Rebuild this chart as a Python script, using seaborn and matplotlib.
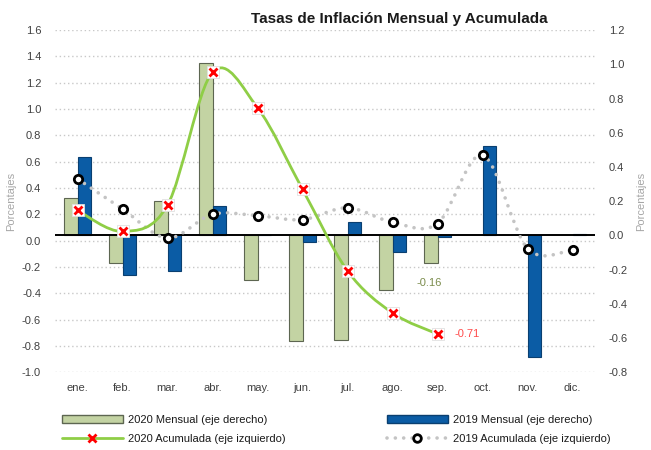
import numpy as np
import pandas as pd
import matplotlib
matplotlib.use('Agg')
import matplotlib.pyplot as plt
import seaborn as sns
from matplotlib.path import Path
from matplotlib.patches import PathPatch, Patch
from matplotlib.lines import Line2D

# data
months = ["ene.", "feb.", "mar.", "abr.", "may.", "jun.", "jul.", "ago.", "sep.", "oct.", "nov.", "dic."]
mensual_2020 = [0.22, -0.16, 0.20, 1.01, -0.26, -0.62, -0.61, -0.32, -0.16]
mensual_2019 = [0.46, -0.23, -0.21, 0.17, 0.00, -0.04, 0.08, -0.10, -0.01, 0.52, -0.71, 0.01]
acum_2020 = [0.23, 0.07, 0.27, 1.28, 1.01, 0.39, -0.23, -0.55, -0.71]
acum_2019 = [0.47, 0.24, 0.02, 0.20, 0.19, 0.16, 0.25, 0.14, 0.13, 0.65, -0.06, -0.07]
left_ticks = [-1.0, -0.8, -0.6, -0.4, -0.2, 0.0, 0.2, 0.4, 0.6, 0.8, 1.0, 1.2, 1.4, 1.6]
right_ticks = [-0.8, -0.6, -0.4, -0.2, 0.0, 0.2, 0.4, 0.6, 0.8, 1.0, 1.2]

lab_m20 = "2020 Mensual (eje derecho)"
lab_m19 = "2019 Mensual (eje derecho)"
lab_a20 = "2020 Acumulada (eje izquierdo)"
lab_a19 = "2019 Acumulada (eje izquierdo)"

GREEN_BAR = "#c3d3a3"
GREEN_EDGE = "#5d6651"
BLUE_BAR = "#0b5ca5"
BLUE_EDGE = "#0a3f70"
LINE_GREEN = "#8fce46"
DOT_GRAY = "#c4c4c4"
TXT = "#404040"

sns.set_style("white")
plt.rcParams['font.family'] = ['Liberation Sans Narrow', 'Liberation Sans', 'DejaVu Sans']
plt.rcParams['font.size'] = 8


def smooth_path(xs, ys):
    # excel-like smoothed line: catmull-rom segments as cubic beziers
    pts = np.column_stack([xs, ys]).astype(float)
    n = len(pts)
    verts = [pts[0]]
    codes = [Path.MOVETO]
    for i in range(n - 1):
        p0 = pts[i - 1] if i > 0 else pts[i]
        p1, p2 = pts[i], pts[i + 1]
        p3 = pts[i + 2] if i + 2 < n else pts[i + 1]
        verts += [p1 + (p2 - p0) / 6, p2 - (p3 - p1) / 6, p2]
        codes += [Path.CURVE4] * 3
    return Path(verts, codes)


df = pd.DataFrame({
    "mes": months[:len(mensual_2020)] + months,
    "serie": [lab_m20] * len(mensual_2020) + [lab_m19] * len(mensual_2019),
    "valor": mensual_2020 + mensual_2019,
})

fig = plt.figure(figsize=(6.51, 4.5), dpi=100)
ax_grid = fig.add_axes([0.0845, 0.173, 0.8295, 0.76])
ax_bars = ax_grid.twinx()
ax_lines = ax_grid.twinx()

# bars on the right scale
sns.barplot(data=df, x="mes", y="valor", hue="serie", order=months,
            hue_order=[lab_m20, lab_m19], palette=[GREEN_BAR, BLUE_BAR],
            width=0.58, saturation=1, legend=False, ax=ax_bars)
for cont, ec in zip(ax_bars.containers, [GREEN_EDGE, BLUE_EDGE]):
    for bar in cont:
        bar.set_edgecolor(ec)
        bar.set_linewidth(0.8)
ax_bars.axhline(0, color="black", lw=1.4, zorder=5)
ax_bars.set_ylim(-0.8, 1.2)
ax_bars.set_yticks(right_ticks, [f"{t:.1f}" for t in right_ticks])
ax_bars.set_ylabel("Porcentajes", color="#a6a6a6", fontsize=8, labelpad=6)
ax_bars.set_xlabel("")

# grid and left scale
ax_grid.set_ylim(-1.0, 1.6)
ax_grid.set_yticks(left_ticks, [f"{t:.1f}" for t in left_ticks])
ax_grid.yaxis.grid(True, color="#c8c8c8", lw=1, linestyle=(0, (1, 2)))
ax_grid.set_ylabel("Porcentajes", color="#a6a6a6", fontsize=8, labelpad=4)
ax_grid.set_xlim(-0.5, 11.5)
ax_grid.set_xticks(range(len(months)), months)

# lines on the left scale
ax_lines.set_ylim(-1.0, 1.6)
ax_lines.set_xlim(-0.5, 11.5)
ax_lines.yaxis.set_visible(False)

x19 = np.arange(len(acum_2019))
x20 = np.arange(len(acum_2020))
ax_lines.add_patch(PathPatch(smooth_path(x19, acum_2019), fill=False, edgecolor=DOT_GRAY,
                             lw=2.6, linestyle=(0, (0.01, 2.3)), capstyle="round", zorder=2))
ax_lines.add_patch(PathPatch(smooth_path(x20, acum_2020), fill=False, edgecolor=LINE_GREEN,
                             lw=2.0, zorder=3))
ax_lines.plot(x19, acum_2019, ls="none", marker="o", ms=6, mfc="white", mec="black",
              mew=2, zorder=4)
ax_lines.plot(x20, acum_2020, ls="none", marker="s", ms=8.5, mfc="white", mec="#e0e0e0",
              mew=0.6, zorder=4)
ax_lines.plot(x20, acum_2020, ls="none", marker="x", ms=5.5, mec="#ff0000", mew=2, zorder=5)

# value labels
ax_bars.annotate(f"{mensual_2020[-1]:.2f}", xy=(len(mensual_2020) - 1, mensual_2020[-1]),
                 xytext=(-8, -20), textcoords="offset pixels", ha="center", va="center",
                 color="#7b8c4c", fontsize=8)
ax_lines.annotate(f"{acum_2020[-1]:.2f}", xy=(len(acum_2020) - 1, acum_2020[-1]),
                  xytext=(17, 0), textcoords="offset pixels", ha="left", va="center",
                  color="#ff4b4b", fontsize=8)

for a in (ax_grid, ax_bars, ax_lines):
    for s in a.spines.values():
        s.set_visible(False)
    a.tick_params(length=0, colors=TXT, labelsize=8)
ax_grid.tick_params(axis="x", pad=8)
ax_grid.tick_params(axis="y", pad=10)
ax_bars.tick_params(axis="y", pad=10)

fig.text(0.614, 0.958, "Tasas de Inflación Mensual y Acumulada", ha="center", va="center",
         fontsize=11, fontweight="bold", color="#1a1a1a")

h_m20 = Patch(facecolor=GREEN_BAR, edgecolor=GREEN_EDGE, lw=1)
h_a20 = Line2D([0], [0], color=LINE_GREEN, lw=2, marker="x", mec="#ff0000", ms=5.5, mew=2)
h_m19 = Patch(facecolor=BLUE_BAR, edgecolor=BLUE_EDGE, lw=1)
h_a19 = Line2D([0], [0], color=DOT_GRAY, lw=2.6, linestyle=(0, (0.01, 2.3)),
               dash_capstyle="round", marker="o", mfc="white", mec="black", ms=5.5, mew=2)
leg_kw = dict(frameon=False, loc="center left", handlelength=5.5, handletextpad=0.5,
              labelspacing=0.8, numpoints=1, fontsize=8, labelcolor="#1a1a1a", borderpad=0,
              borderaxespad=0)
fig.legend([h_m20, h_a20], [lab_m20, lab_a20], bbox_to_anchor=(0.0948, 0.0456), **leg_kw)
fig.legend([h_m19, h_a19], [lab_m19, lab_a19], bbox_to_anchor=(0.594, 0.0456), **leg_kw)

fig.savefig("out.png", dpi=100)
